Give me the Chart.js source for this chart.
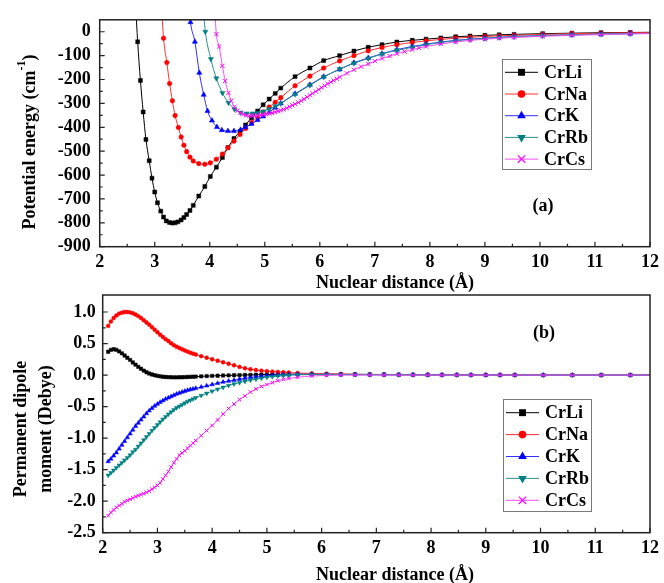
<!DOCTYPE html>
<html><head><meta charset="utf-8">
<script src="https://cdn.jsdelivr.net/npm/chart.js@4/dist/chart.umd.min.js"></script>
<style>
html,body{margin:0;padding:0;background:#fff;width:664px;height:583px;overflow:hidden}
canvas{position:absolute;left:0;top:0}
</style></head><body>
<canvas id="ca" width="664" height="583"></canvas>
<canvas id="cb" width="664" height="583"></canvas>
<script>
// ---------- data ----------
const seriesNames = ['CrLi','CrNa','CrK','CrRb','CrCs'];
const xTicks = [2,3,4,5,6,7,8,9,10,11,12];
const energyTicks = [0,-100,-200,-300,-400,-500,-600,-700,-800,-900];
const dipoleTicks = [1.0,0.5,0.0,-0.5,-1.0,-1.5,-2.0,-2.5];

// (a) potential energy, cm-1
const rLi = [2.65,2.69,2.74,2.79,2.84,2.90,2.95,3.00,3.05,3.11,3.16,3.21,3.27,3.32,3.37,3.42,3.48,3.53,3.58,3.64,3.70,3.80,3.91,4.01,4.12,4.23,4.33,4.44,4.55,4.65,4.76,4.87,4.97,5.08,5.19,5.29,5.55,5.82,6.07,6.36,6.62,6.88,7.13,7.40,7.68,7.93,8.20,8.47,8.73,9.00,9.26,9.53,10.05,10.58,11.11,11.64,12.17];
const eLi = [120,-42,-204,-336,-451,-540,-613,-671,-716,-751,-776,-792,-799,-801,-800,-796,-788,-778,-765,-748,-727,-688,-648,-606,-567,-527,-485,-447,-418,-390,-360,-332,-306,-282,-258,-236,-188,-152,-121,-100,-81,-65,-54,-43,-36,-31,-26,-21,-18,-15,-13,-11,-8,-6,-4,-3,-2];
const rNa = [3.12,3.16,3.22,3.27,3.32,3.37,3.43,3.48,3.53,3.58,3.64,3.70,3.80,3.91,4.01,4.12,4.23,4.33,4.44,4.55,4.65,4.76,4.87,4.97,5.08,5.19,5.29,5.55,5.82,6.07,6.36,6.62,6.88,7.13,7.40,7.68,7.93,8.20,8.47,8.73,9.00,9.26,9.53,10.05,10.58,11.11,11.64,12.17];
const eNa = [120,-27,-129,-217,-289,-351,-401,-441,-475,-502,-525,-541,-552,-555,-549,-534,-512,-486,-458,-430,-405,-380,-357,-336,-315,-295,-276,-226,-186,-152,-122,-100,-80,-66,-54,-45,-38,-32,-27,-23,-20,-17,-15,-11,-8,-6,-4,-3];
const rK = [3.61,3.65,3.73,3.81,3.89,3.96,4.04,4.13,4.22,4.33,4.44,4.56,4.65,4.76,4.87,4.97,5.08,5.19,5.29,5.55,5.82,6.07,6.36,6.62,6.88,7.13,7.40,7.68,7.93,8.20,8.47,8.73,9.00,9.26,9.53,10.05,10.58,11.11,11.64,12.17];
const eK = [150,40,-42,-172,-264,-332,-372,-399,-412,-416,-416,-410,-400,-386,-370,-355,-337,-318,-300,-260,-222,-188,-158,-130,-110,-92,-75,-62,-52,-43,-36,-31,-27,-23,-20,-16,-13,-10,-8,-6];
const rRb = [3.87,3.92,4.02,4.12,4.23,4.34,4.45,4.56,4.67,4.78,4.87,4.97,5.08,5.19,5.29,5.55,5.82,6.07,6.36,6.62,6.88,7.13,7.40,7.68,7.93,8.20,8.47,8.73,9.00,9.26,9.53,10.05,10.58,11.11,11.64,12.17];
const eRb = [130,0,-114,-195,-256,-297,-324,-338,-342,-342,-340,-334,-324,-312,-300,-262,-224,-190,-156,-132,-112,-93,-78,-65,-54,-45,-38,-32,-28,-24,-21,-16,-13,-10,-8,-6];
const rCs = [4.08,4.12,4.17,4.23,4.28,4.34,4.39,4.45,4.50,4.56,4.61,4.66,4.72,4.77,4.82,4.87,4.93,4.98,5.03,5.08,5.13,5.19,5.24,5.29,5.34,5.40,5.45,5.50,5.55,5.61,5.66,5.71,5.77,5.82,5.87,5.93,5.98,6.03,6.09,6.14,6.20,6.25,6.31,6.36,6.49,6.62,6.75,6.88,7.00,7.13,7.27,7.40,7.54,7.68,7.80,7.93,8.20,8.47,8.73,9.00,9.26,9.53,10.05,10.58,11.11,11.64,12.17];
const eCs = [130,-10,-62,-143,-206,-256,-289,-314,-330,-340,-346,-350,-352,-352,-351,-350,-348,-347,-345,-343,-340,-336,-333,-329,-325,-320,-314,-308,-303,-296,-289,-282,-274,-266,-258,-250,-242,-234,-226,-218,-211,-204,-197,-190,-174,-159,-146,-135,-123,-112,-102,-92,-83,-75,-68,-62,-51,-43,-36,-31,-27,-24,-19,-15,-12,-9,-7];

// (b) permanent dipole moment, Debye (shared distance grid)
const rDip = [2.10,2.15,2.20,2.25,2.30,2.35,2.40,2.45,2.50,2.55,2.60,2.65,2.70,2.75,2.80,2.85,2.90,2.95,3.00,3.05,3.10,3.15,3.20,3.25,3.30,3.35,3.40,3.45,3.50,3.55,3.60,3.65,3.70,3.80,3.90,4.00,4.10,4.20,4.30,4.40,4.50,4.60,4.70,4.80,4.90,5.00,5.10,5.20,5.30,5.40,5.56,5.82,6.09,6.35,6.61,6.88,7.14,7.41,7.67,7.94,8.20,8.47,8.73,9.00,9.26,9.53,10.05,10.58,11.11,11.64,12.17];
const dLi = [0.37,0.40,0.41,0.40,0.375,0.345,0.31,0.275,0.24,0.20,0.165,0.13,0.10,0.07,0.045,0.025,0.01,-0.002,-0.012,-0.02,-0.026,-0.03,-0.033,-0.035,-0.036,-0.036,-0.035,-0.034,-0.032,-0.03,-0.028,-0.026,-0.024,
  -0.02,-0.016,-0.013,-0.01,-0.007,-0.005,-0.003,-0.001,0.001,0.003,0.005,0.007,0.009,0.01,0.012,0.013,0.014,
  0.015,0.015,0.014,0.013,0.012,0.01,0.009,0.007,0.006,0.005,0.004,0.003,0.002,0.002,0.001,0.001,0,0,0,0,0];
const dNa = [0.78,0.85,0.905,0.945,0.975,0.99,1.0,1.0,0.995,0.98,0.96,0.935,0.905,0.87,0.835,0.80,0.76,0.72,0.68,0.64,0.605,0.57,0.54,0.505,0.475,0.45,0.43,0.41,0.39,0.372,0.356,0.34,0.326,
  0.30,0.275,0.25,0.227,0.204,0.18,0.155,0.13,0.108,0.093,0.08,0.07,0.062,0.055,0.05,0.045,0.04,
  0.032,0.026,0.02,0.016,0.012,0.01,0.008,0.006,0.005,0.004,0.003,0.002,0.002,0.001,0.001,0,0,0,0,0,0];
const dK = [-1.37,-1.33,-1.28,-1.23,-1.17,-1.11,-1.05,-0.99,-0.93,-0.87,-0.81,-0.76,-0.71,-0.66,-0.61,-0.565,-0.525,-0.49,-0.46,-0.43,-0.405,-0.38,-0.36,-0.34,-0.32,-0.30,-0.285,-0.27,-0.255,-0.24,-0.23,-0.22,-0.21,
  -0.19,-0.17,-0.15,-0.13,-0.11,-0.095,-0.08,-0.065,-0.05,-0.04,-0.03,-0.02,-0.012,-0.005,0.0,0.005,0.008,
  0.012,0.013,0.012,0.01,0.009,0.007,0.006,0.005,0.004,0.003,0.002,0.002,0.001,0.001,0.001,0,0,0,0,0,0];
const dRb = [-1.59,-1.55,-1.51,-1.47,-1.43,-1.39,-1.35,-1.31,-1.27,-1.22,-1.18,-1.13,-1.08,-1.03,-0.98,-0.93,-0.88,-0.835,-0.79,-0.745,-0.70,-0.66,-0.62,-0.585,-0.55,-0.52,-0.495,-0.47,-0.445,-0.42,-0.40,-0.38,-0.36,
  -0.325,-0.29,-0.255,-0.225,-0.195,-0.165,-0.14,-0.12,-0.10,-0.08,-0.065,-0.05,-0.035,-0.025,-0.015,-0.008,-0.003,
  0.004,0.008,0.008,0.007,0.006,0.005,0.004,0.003,0.003,0.002,0.002,0.001,0.001,0.001,0,0,0,0,0,0,0];
const dCs = [-2.23,-2.18,-2.14,-2.10,-2.07,-2.04,-2.01,-1.99,-1.97,-1.95,-1.93,-1.91,-1.895,-1.88,-1.86,-1.84,-1.81,-1.78,-1.75,-1.71,-1.65,-1.59,-1.53,-1.46,-1.39,-1.33,-1.27,-1.235,-1.20,-1.16,-1.12,-1.08,-1.04,
  -0.96,-0.88,-0.80,-0.71,-0.62,-0.53,-0.46,-0.39,-0.33,-0.27,-0.22,-0.18,-0.15,-0.12,-0.09,-0.07,-0.055,
  -0.035,-0.015,-0.005,0,0,0,0,0,0,0,0,0,0,0,0,0,0,0,0,0,0];

// ---------- styling ----------
const FF = '"Liberation Serif","Times New Roman",serif';
const styles = [
  {color:'#000000', shape:'rect',     rot:0,   r:2.8, lr:4.6},
  {color:'#ff0000', shape:'circle',   rot:0,   r:2.3, lr:3.8},
  {color:'#0000ff', shape:'triangle', rot:0,   r:3.0, lr:5.0},
  {color:'#008080', shape:'triangle', rot:180, r:3.0, lr:5.0},
  {color:'#ff00ff', shape:'crossRot', rot:0,   r:3.0, lr:4.6},
];
const lineColors = ['#000000','#ff3030','#3030ff','#2a9090','#f050f0'];

function pts(xs, ys){ return xs.map((x,i)=>({x:x, y:ys[i]})); }
function makeDatasets(pairs, rScale){
  return pairs.map((p,i)=>({
    label: seriesNames[i],
    data: pts(p[0], p[1]),
    borderColor: lineColors[i],
    borderWidth: 1,
    backgroundColor: styles[i].color,
    pointBackgroundColor: styles[i].color,
    pointBorderColor: styles[i].color,
    pointBorderWidth: styles[i].shape==='crossRot' ? 1 : 0.5,
    pointStyle: styles[i].shape,
    pointRotation: styles[i].rot,
    pointRadius: styles[i].r*rScale,
    pointHoverRadius: styles[i].r*rScale,
    cubicInterpolationMode: 'monotone',
    fill: false,
    order: 5-i
  }));
}

function drawMarker(ctx, st, x, y, r){
  ctx.save();
  ctx.fillStyle = st.color; ctx.strokeStyle = st.color; ctx.lineWidth = 1.2;
  ctx.beginPath();
  if(st.shape==='rect'){ const s=r*0.75; ctx.rect(x-s,y-s,2*s,2*s); ctx.fill(); }
  else if(st.shape==='circle'){ ctx.arc(x,y,r,0,Math.PI*2); ctx.fill(); }
  else if(st.shape==='triangle'){
    const d = st.rot===180 ? -1 : 1;
    ctx.moveTo(x, y - d*r);
    ctx.lineTo(x + r*0.866, y + d*r*0.5);
    ctx.lineTo(x - r*0.866, y + d*r*0.5);
    ctx.closePath(); ctx.fill();
  } else {
    const s=r*0.8;
    ctx.moveTo(x-s,y-s); ctx.lineTo(x+s,y+s); ctx.moveTo(x+s,y-s); ctx.lineTo(x-s,y+s); ctx.stroke();
  }
  ctx.restore();
}

const decorPlugin = {
  id: 'decor',
  afterDraw(chart, args, o){
    const ctx = chart.ctx, a = chart.chartArea, xs = chart.scales.x, ys = chart.scales.y;
    ctx.save();
    // inward ticks
    ctx.strokeStyle = '#222'; ctx.lineWidth = 1.2;
    ctx.beginPath();
    o.xMajor.forEach((v,i)=>{
      const px = xs.getPixelForValue(v);
      ctx.moveTo(px, a.bottom); ctx.lineTo(px, a.bottom-5);
      if(i < o.xMajor.length-1){
        const pm = xs.getPixelForValue((v + o.xMajor[i+1])/2);
        ctx.moveTo(pm, a.bottom); ctx.lineTo(pm, a.bottom-3);
      }
    });
    o.yMajor.forEach((v,i)=>{
      const py = ys.getPixelForValue(v);
      ctx.moveTo(a.left, py); ctx.lineTo(a.left+5, py);
      if(i < o.yMajor.length-1){
        const pm = ys.getPixelForValue((v + o.yMajor[i+1])/2);
        ctx.moveTo(a.left, pm); ctx.lineTo(a.left+3, pm);
      }
    });
    ctx.stroke();
    // frame
    ctx.lineWidth = 1.5; ctx.strokeStyle = '#222';
    ctx.strokeRect(a.left, a.top, a.right-a.left, a.bottom-a.top);

    // legend
    const L = o.legend;
    ctx.lineWidth = 1; ctx.strokeStyle = '#7a7a7a';
    ctx.strokeRect(L.x+0.5, L.y+0.5, L.w, L.h);
    ctx.font = 'bold 18px ' + FF;
    ctx.textAlign = 'left'; ctx.textBaseline = 'middle';
    chart.data.datasets.forEach((ds,i)=>{
      const yy = L.y + L.first + i*L.step;
      ctx.strokeStyle = ds.borderColor; ctx.lineWidth = 1;
      ctx.beginPath(); ctx.moveTo(L.x+3, yy); ctx.lineTo(L.x+36, yy); ctx.stroke();
      drawMarker(ctx, styles[i], L.x+19.5, yy, styles[i].lr);
      ctx.fillStyle = '#000';
      ctx.fillText(ds.label, L.x+42, yy+1);
    });

    // panel label
    ctx.fillStyle = '#000'; ctx.textAlign = 'center'; ctx.textBaseline = 'middle';
    ctx.font = 'bold 18px ' + FF;
    ctx.fillText(o.panel.text, o.panel.x, o.panel.y);

    // x title
    ctx.fillText('Nuclear distance (\u00C5)', o.xTitle.x, o.xTitle.y);

    // y title
    ctx.save();
    ctx.translate(o.yTitle.x, o.yTitle.y);
    ctx.rotate(-Math.PI/2);
    ctx.textAlign = 'left';
    if(o.yTitle.sup){
      ctx.font = 'bold 18px ' + FF;
      const w1 = ctx.measureText(o.yTitle.main).width;
      const w3 = ctx.measureText(o.yTitle.tail).width;
      ctx.font = 'bold 12px ' + FF;
      const w2 = ctx.measureText(o.yTitle.sup).width;
      let sx = -(w1+w2+w3)/2;
      ctx.font = 'bold 18px ' + FF;
      ctx.fillText(o.yTitle.main, sx, 0);
      ctx.font = 'bold 12px ' + FF;
      ctx.fillText(o.yTitle.sup, sx+w1, -8);
      ctx.font = 'bold 18px ' + FF;
      ctx.fillText(o.yTitle.tail, sx+w1+w2, 0);
    } else {
      ctx.font = 'bold 18px ' + FF;
      ctx.textAlign = 'center';
      o.yTitle.lines.forEach((t,k)=>{ ctx.fillText(t, 0, o.yTitle.dy[k]); });
    }
    ctx.restore();
    ctx.restore();
  }
};

function axisX(h){
  return {
    type:'linear', min:2, max:12,
    afterBuildTicks: s => { s.ticks = xTicks.map(v=>({value:v})); },
    afterFit: s => { s.height = h; },
    grid:{display:false, drawTicks:false}, border:{display:false},
    ticks:{autoSkip:false, maxRotation:0, minRotation:0, padding:5, color:'#000',
      font:{family:FF, size:18, weight:'bold'}, callback: v => String(v)}
  };
}
function axisY(min, max, tickVals, w, pad, fmt){
  return {
    type:'linear', min:min, max:max,
    afterBuildTicks: s => { s.ticks = tickVals.map(v=>({value:v})); },
    afterFit: s => { s.width = w; },
    grid:{display:false, drawTicks:false}, border:{display:false},
    ticks:{autoSkip:false, padding:pad, color:'#000',
      font:{family:FF, size:18, weight:'bold'}, callback: fmt}
  };
}

// ---------- chart (a) ----------
new Chart(document.getElementById('ca'), {
  type:'line',
  data:{ datasets: makeDatasets([[rLi,eLi],[rNa,eNa],[rK,eK],[rRb,eRb],[rCs,eCs]], 1) },
  options:{
    responsive:false, animation:false, devicePixelRatio:1, events:[],
    layout:{padding:{left:0, top:11, right:8, bottom:583-246.7-40}},
    scales:{ x: axisX(40), y: axisY(-900, 50, energyTicks, 99.7, 9, v=>String(v)) },
    plugins:{
      legend:{display:false}, tooltip:{enabled:false},
      decor:{
        xMajor:xTicks, yMajor:energyTicks,
        legend:{x:502, y:59, w:89, h:110, first:13.3, step:21.7},
        panel:{text:'(a)', x:543, y:206},
        xTitle:{x:395, y:283},
        yTitle:{x:30, y:142, main:'Potential energy (cm', sup:'-1', tail:')'}
      }
    }
  },
  plugins:[decorPlugin]
});

// ---------- chart (b) ----------
new Chart(document.getElementById('cb'), {
  type:'line',
  data:{ datasets: makeDatasets([[rDip,dLi],[rDip,dNa],[rDip,dK],[rDip,dRb],[rDip,dCs]], 0.85) },
  options:{
    responsive:false, animation:false, devicePixelRatio:1, events:[],
    layout:{padding:{left:0, top:295, right:7, bottom:583-532.7-40}},
    scales:{ x: axisX(40), y: axisY(-2.5, 1.27, dipoleTicks, 102.7, 7, v=>Number(v).toFixed(1)) },
    plugins:{
      legend:{display:false}, tooltip:{enabled:false},
      decor:{
        xMajor:xTicks, yMajor:dipoleTicks,
        legend:{x:503, y:399, w:88, h:112, first:13.7, step:21.9},
        panel:{text:'(b)', x:544, y:333},
        xTitle:{x:395, y:575},
        yTitle:{x:34, y:429, lines:['Permanent dipole','moment (Debye)'], dy:[-13, 12]}
      }
    }
  },
  plugins:[decorPlugin]
});
</script>
</body></html>
